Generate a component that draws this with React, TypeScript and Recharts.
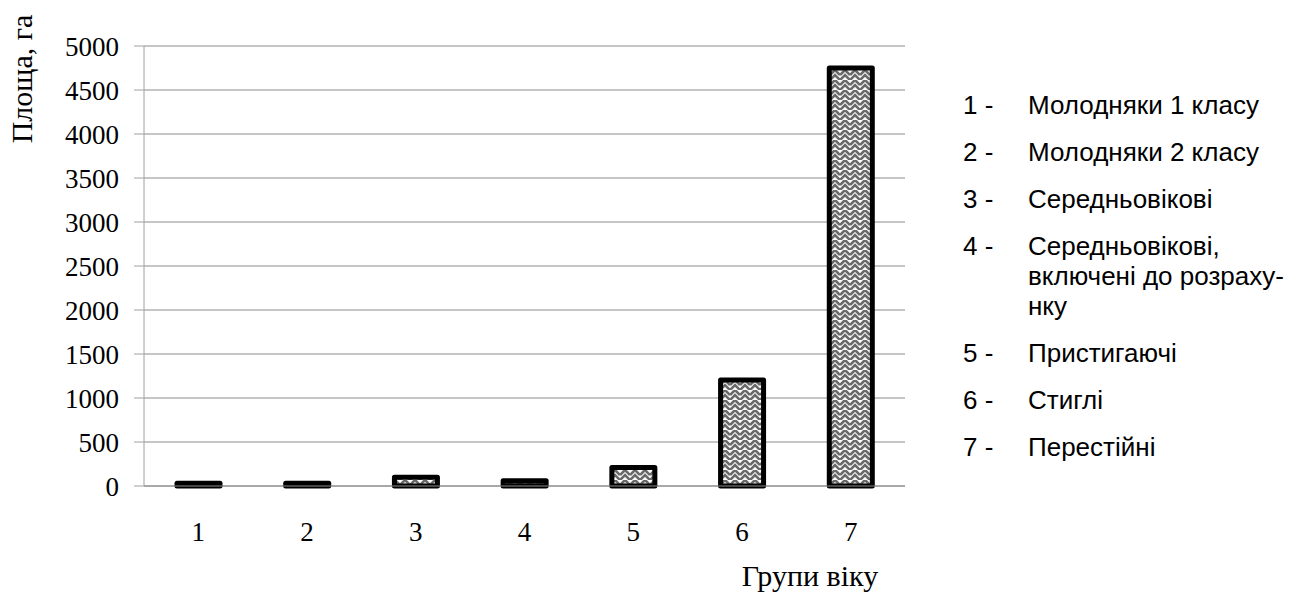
import React from "react";
import { BarChart, Bar, XAxis, YAxis, CartesianGrid, Label } from "recharts";

const categories = ["1", "2", "3", "4", "5", "6", "7"];
const areaValues = [30, 30, 100, 60, 210, 1205, 4750];
const yTicks = [0, 500, 1000, 1500, 2000, 2500, 3000, 3500, 4000, 4500, 5000];
const legendNumbers = ["1 -", "2 -", "3 -", "4 -", "5 -", "6 -", "7 -"];
const legendLabels = [
  "Молодняки 1 класу",
  "Молодняки 2 класу",
  "Середньовікові",
  "Середньовікові,\nвключені до розраху-\nнку",
  "Пристигаючі",
  "Стиглі",
  "Перестійні",
];
const yAxisTitle = "Площа, га";
const xAxisTitle = "Групи віку";

const data = categories.map((c, i) => ({ name: c, value: areaValues[i] }));

const SERIF = '"Liberation Serif", "Times New Roman", serif';
const SANS = '"Liberation Sans", Arial, sans-serif';

export default function App() {
  return (
    <div style={{ position: "absolute", left: 0, top: 0, width: 1293, height: 592, background: "#fff" }}>
      <BarChart
        width={1293}
        height={592}
        data={data}
        margin={{ top: 46, right: 388, bottom: 0, left: 0 }}
        barCategoryGap={0}
      >
        <defs>
          <pattern id="weave" width="10" height="10" patternUnits="userSpaceOnUse">
            <rect width="10" height="10" fill="#ffffff" />
            <path d="M0,5 L5,0 L10,5" fill="none" stroke="#6a6a6a" strokeWidth="2.6" />
            <path d="M0,10 L5,5 L10,10" fill="none" stroke="#6a6a6a" strokeWidth="2.6" />
          </pattern>
        </defs>
        <CartesianGrid vertical={false} stroke="#8c8c8c" />
        <XAxis
          dataKey="name"
          height={106}
          tickLine={false}
          tickSize={0}
          tickMargin={36}
          axisLine={{ stroke: "#8c8c8c" }}
          tick={{ fill: "#000", fontSize: 27, fontFamily: SERIF }}
        >
          <Label
            content={({ viewBox }: any) => (
              <text
                x={viewBox.x + viewBox.width - 95}
                y={viewBox.y + 100}
                textAnchor="middle"
                fontSize={30}
                fontFamily={SERIF}
                fill="#000"
              >
                {xAxisTitle}
              </text>
            )}
          />
        </XAxis>
        <YAxis
          width={144}
          domain={[0, 5000]}
          ticks={yTicks}
          interval={0}
          tickSize={10}
          tickMargin={15}
          tickLine={{ stroke: "#a0a0a0" }}
          axisLine={{ stroke: "#a0a0a0" }}
          tick={{ fill: "#000", fontSize: 27, fontFamily: SERIF }}
        >
          <Label
            content={({ viewBox }: any) => (
              <text
                x={21}
                y={viewBox.y + 33}
                transform={`rotate(-90, 21, ${viewBox.y + 33})`}
                textAnchor="middle"
                dominantBaseline="central"
                fontSize={30}
                fontFamily={SERIF}
                fill="#000"
              >
                {yAxisTitle}
              </text>
            )}
          />
        </YAxis>
        <Bar
          dataKey="value"
          barSize={43}
          fill="url(#weave)"
          stroke="#000"
          strokeWidth={5}
          strokeLinejoin="round"
          isAnimationActive={false}
        />
      </BarChart>
      <div
        style={{
          position: "absolute",
          left: 963,
          top: 90,
          fontFamily: SANS,
          fontSize: 26,
          lineHeight: "30px",
          color: "#000",
        }}
      >
        {legendLabels.map((lab, i) => (
          <div key={i} style={{ display: "flex", marginBottom: 17 }}>
            <div style={{ width: 65, whiteSpace: "nowrap" }}>{legendNumbers[i]}</div>
            <div style={{ whiteSpace: "pre-line" }}>{lab}</div>
          </div>
        ))}
      </div>
    </div>
  );
}
